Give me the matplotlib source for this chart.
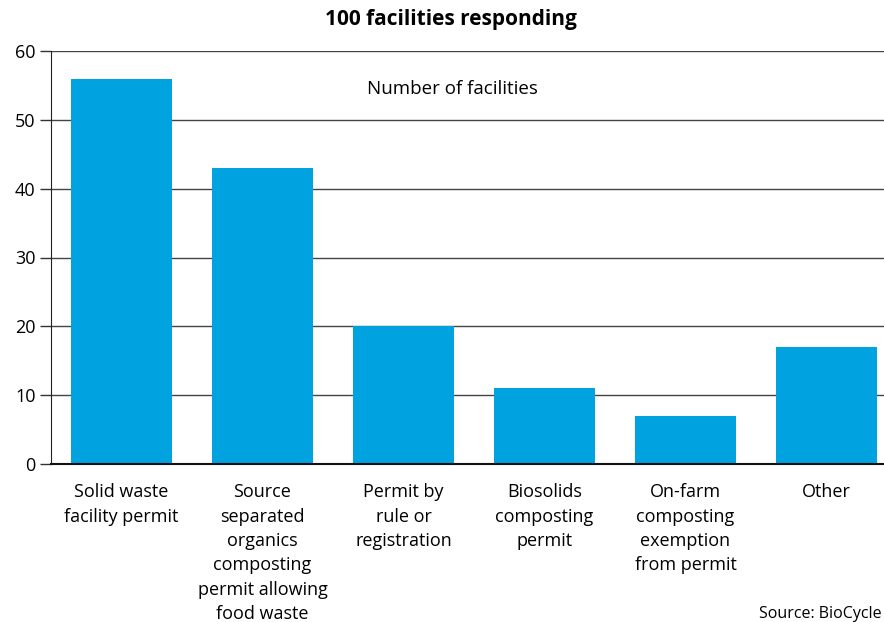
import matplotlib.pyplot as plt

categories = [
    "Solid waste\nfacility permit",
    "Source\nseparated\norganics\ncomposting\npermit allowing\nfood waste",
    "Permit by\nrule or\nregistration",
    "Biosolids\ncomposting\npermit",
    "On-farm\ncomposting\nexemption\nfrom permit",
    "Other",
]
facilities = [56, 43, 20, 11, 7, 17]

plt.rcParams["font.family"] = ["Open Sans", "DejaVu Sans"]

fig = plt.figure(figsize=(8.84, 6.22), dpi=100)
ax = fig.add_axes([51 / 884, 1 - 464 / 622, 846 / 884, 413 / 622])

x = range(len(categories))
ax.bar(x, facilities, width=0.72, color="#00a3e0", zorder=2)

ax.set_xlim(-0.5, len(categories) - 0.5)
ax.set_ylim(0, 60)
ax.set_yticks(range(0, 61, 10))
ax.yaxis.grid(True, color="#444444", linewidth=1.0, zorder=0)
ax.set_xticks(list(x))
ax.set_xticklabels(categories, fontsize=13, linespacing=1.45, va="top")
ax.tick_params(axis="x", length=0, pad=14)
ax.tick_params(axis="y", labelsize=13, length=8, width=1, color="#333333", pad=3)

for side in ["top", "right"]:
    ax.spines[side].set_visible(False)
ax.spines["left"].set_color("#222222")
ax.spines["bottom"].set_color("#111111")
ax.spines["bottom"].set_linewidth(1.5)

fig.text(452 / 884, 1 - 89 / 622, "Number of facilities",
         ha="center", va="center", fontsize=13.5)
fig.text(451 / 884, 1 - 20 / 622, "100 facilities responding",
         ha="center", va="center", fontsize=15, fontweight="bold")
fig.text(882 / 884, 1 - 614 / 622, "Source: BioCycle",
         ha="right", va="center", fontsize=11.5)

fig.savefig("out.png", dpi=100)
